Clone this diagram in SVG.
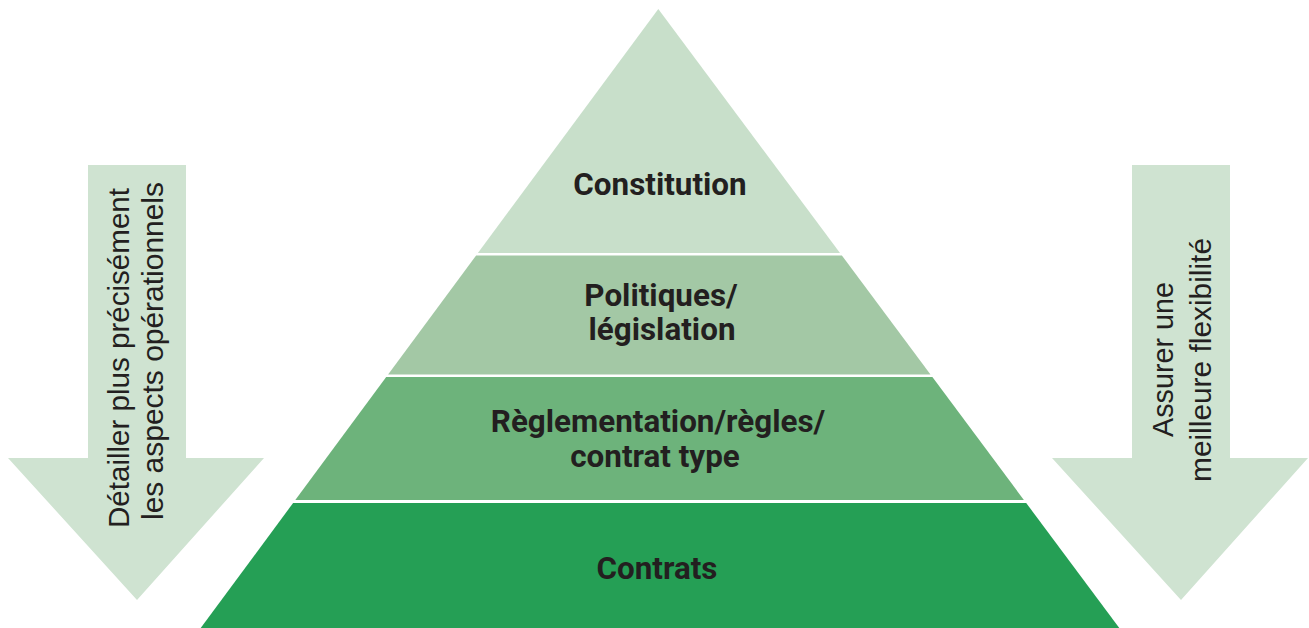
<svg xmlns="http://www.w3.org/2000/svg" width="1309" height="628" viewBox="0 0 1309 628">
  <style>
    .tier-label { font-family: Roboto, "Liberation Sans", Arial, sans-serif; font-weight: 700; font-size: 31.4px; fill: #231f20; text-anchor: middle; }
    .side-label { font-family: "Liberation Sans", Arial, sans-serif; font-size: 29px; fill: #231f20; text-anchor: middle; }
    .side-arrow { fill: #cfe3d1; }
  </style>
  <rect width="1309" height="628" fill="#ffffff"/>

  <!-- side arrows -->
  <g id="arrow-left">
    <polygon class="side-arrow" points="88,165 186,165 186,458 264,458 137,600 8,458 88,458"/>
    <text class="side-label" transform="translate(129,358) rotate(-90)" textLength="340" lengthAdjust="spacingAndGlyphs">Détailler plus précisément</text>
    <text class="side-label" transform="translate(163,351) rotate(-90)" textLength="338" lengthAdjust="spacingAndGlyphs">les aspects opérationnels</text>
  </g>
  <g id="arrow-right">
    <polygon class="side-arrow" points="1132,165 1230,165 1230,458 1308,458 1181,600 1052,458 1132,458"/>
    <text class="side-label" transform="translate(1173,359.5) rotate(-90)" textLength="155" lengthAdjust="spacingAndGlyphs">Assurer une</text>
    <text class="side-label" transform="translate(1211,360) rotate(-90)" textLength="244" lengthAdjust="spacingAndGlyphs">meilleure flexibilité</text>
  </g>

  <!-- pyramid tiers -->
  <g id="tier-constitution">
    <polygon points="658.3,9 840,253 477.9,253" fill="#c8dfca"/>
    <text class="tier-label" x="660" y="195">Constitution</text>
  </g>
  <g id="tier-politiques">
    <polygon points="476.1,255.5 841.9,255.5 930.5,374.5 388.1,374.5" fill="#a3c8a5"/>
    <text class="tier-label" x="661" y="306">Politiques/</text>
    <text class="tier-label" x="662" y="340">législation</text>
  </g>
  <g id="tier-reglementation">
    <polygon points="386.2,377 932.4,377 1023.9,500 295.3,500" fill="#6db37b"/>
    <text class="tier-label" x="658" y="432">Règlementation/règles/</text>
    <text class="tier-label" x="655" y="467">contrat type</text>
  </g>
  <g id="tier-contrats">
    <polygon points="293.1,503 1026.2,503 1119.3,628 200.7,628" fill="#259f55"/>
    <text class="tier-label" x="657" y="579">Contrats</text>
  </g>

  <g id="connectors"/>
</svg>
